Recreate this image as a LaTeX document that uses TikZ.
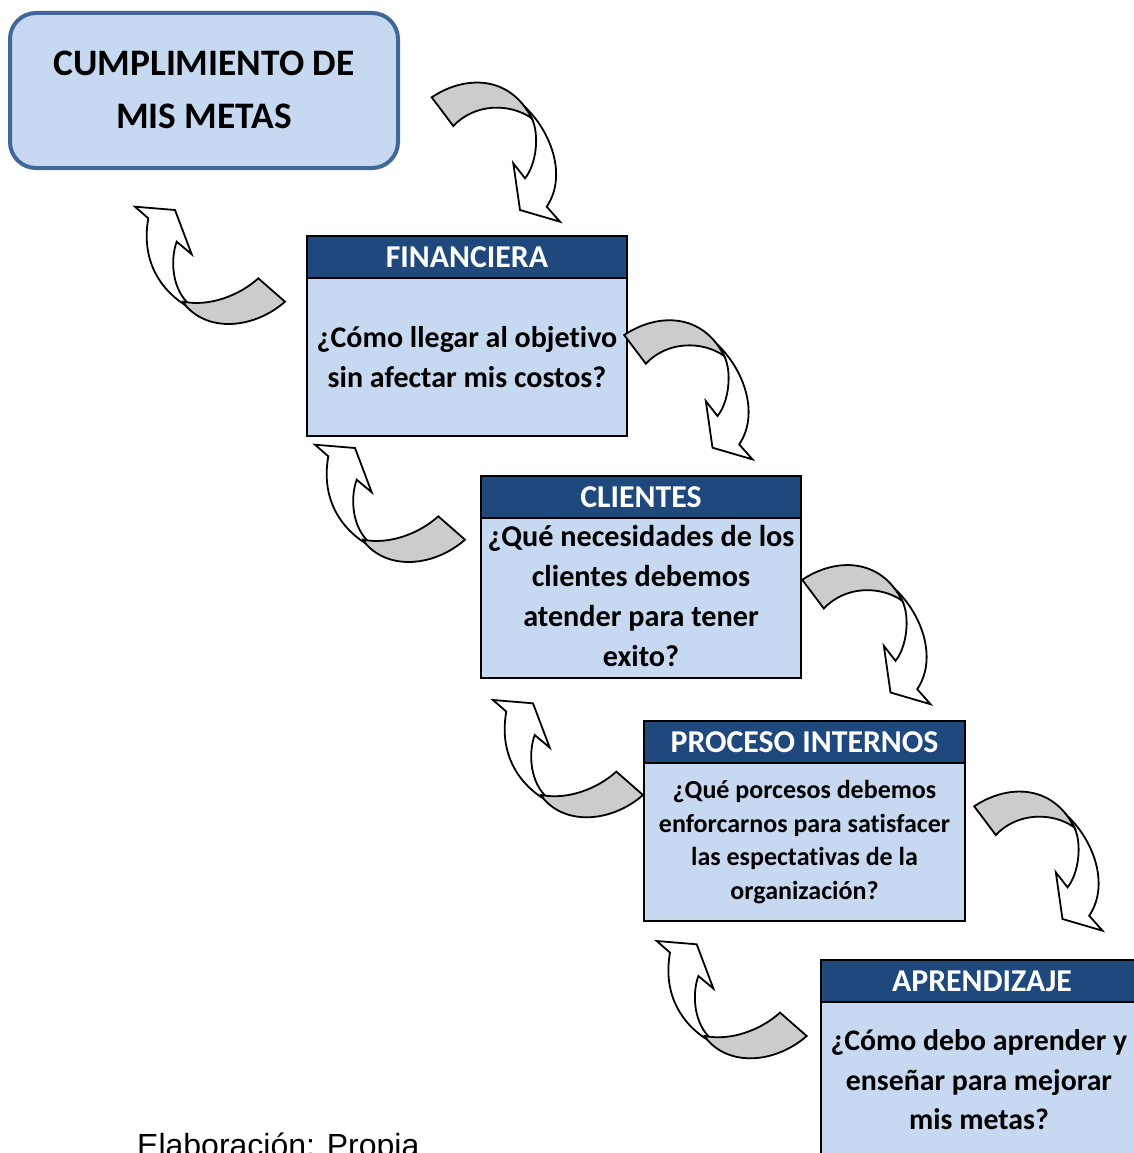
\documentclass[tikz,border=0pt]{standalone}
\usepackage{fontspec}
\setmainfont{Carlito}[Ligatures=NoCommon]
\newfontfamily\capfont{Liberation Sans}
\definecolor{lblue}{HTML}{C6D9F1}
\definecolor{hblue}{HTML}{1F497D}
\definecolor{tborder}{HTML}{41679A}
\definecolor{greyc}{HTML}{CCCCCC}
\tikzset{
  arrline/.style={draw=black, line width=1.8pt, line join=miter},
  downarr/.pic={
    \path[arrline, fill=white] (104.5,36.6) .. controls (130,60) and (148,105) .. (126.7,136.7)
      -- (140,151.7) -- (100,140) -- (93.3,93.3) -- (105,108.3)
      .. controls (116,95) and (120,65) .. (111.7,48.3) -- cycle;
    \path[arrline, fill=greyc] (11.7,27.3) .. controls (45,5) and (90,5) .. (111.7,48.3)
      .. controls (90,33) and (55,33) .. (33.3,56) -- cycle;
  },
  uparr/.pic={
    \path[arrline, fill=white] (18.3,23.3) -- (5,11.7) -- (45,15) -- (61.7,59.3) -- (46.7,46.7)
      .. controls (40,65) and (42,95) .. (60,110) -- (62,114)
      .. controls (35,100) and (10,70) .. (18.3,23.3) -- cycle;
    \path[arrline, fill=greyc] (128.3,83.3) .. controls (110,100) and (80,112) .. (53.3,106.7)
      -- (56,111) .. controls (80,138) and (125,133) .. (155,106.7) -- cycle;
  },
  hdr/.style={draw=black, line width=2pt, fill=hblue, minimum width=320pt, minimum height=42pt,
    anchor=north west, inner sep=0pt},
  bodybox/.style={draw=black, line width=2pt, fill=lblue, minimum width=320pt, anchor=north west, inner sep=0pt},
  hdrtext/.style={text=white, inner sep=0pt, font=\bfseries\fontsize{31.8}{36}\selectfont},
  bodytext/.style={align=center, inner sep=0pt, font=\bfseries\fontsize{30}{40}\selectfont}
}
\begin{document}
\begin{tikzpicture}[x=1pt,y=-1pt]
\useasboundingbox (0,0) rectangle (1134,1153);
% top box
\node[draw=tborder, line width=4pt, fill=lblue, rounded corners=26pt, minimum width=388pt,
  minimum height=155pt, inner sep=0pt] (cum) at (204,90.5) {};
\node[align=center, inner sep=0pt, font=\bfseries\fontsize{37.4}{53}\selectfont] (cumt) at ([yshift=1pt]cum.center)
  {CUMPLIMIENTO DE\\MIS METAS};
% FINANCIERA
\node[hdr] (finH) at (306,235) {};
\node[hdrtext] (finHt) at (finH.center) {FINANCIERA};
\node[bodybox, minimum height=158pt] (finB) at (306,277) {};
\node[bodytext] (finBt) at (finB.center) {¿Cómo llegar al objetivo\\sin afectar mis costos?};
% CLIENTES
\node[hdr] (cliH) at (480,475) {};
\node[hdrtext] (cliHt) at (cliH.center) {CLIENTES};
\node[bodybox, minimum height=160pt] (cliB) at (480,517) {};
\node[bodytext, font=\bfseries\fontsize{30.2}{40}\selectfont] (cliBt) at ([yshift=2pt]cliB.center) {¿Qué necesidades de los\\clientes debemos\\atender para tener\\exito?};
% PROCESO INTERNOS
\node[hdr, minimum width=321pt] (proH) at (643,720) {};
\node[hdrtext] (proHt) at (proH.center) {PROCESO INTERNOS};
\node[bodybox, minimum width=321pt, minimum height=158pt] (proB) at (643,762) {};
\node[bodytext, font=\bfseries\fontsize{26}{33.5}\selectfont] (proBt) at (proB.center)
  {¿Qué porcesos debemos\\enforcarnos para satisfacer\\las espectativas de la\\organización?};
% APRENDIZAJE
\node[hdr] (apH) at (820,959) {};
\node[hdrtext] (apHt) at ([xshift=1pt]apH.center) {APRENDIZAJE};
\node[bodybox, minimum height=170pt] (apB) at (820,1001) {};
\node[bodytext, font=\bfseries\fontsize{29.8}{39.5}\selectfont] (apBt) at (979,1080)
  {¿Cómo debo aprender y\\enseñar para mejorar\\mis metas?};
% caption
\node[anchor=base west, inner sep=0pt, font=\capfont\fontsize{32}{38}\selectfont] (cap) at (137,1156)
  {Elaboración: Propia};
% arrows
\pic at (420,70) {downarr};
\pic at (612.5,307.7) {downarr};
\pic at (790.5,552.5) {downarr};
\pic at (962.5,779) {downarr};
\pic at (130,195) {uparr};
\pic at (310,433) {uparr};
\pic at (488,688.3) {uparr};
\pic at (651.7,929.3) {uparr};
\end{tikzpicture}
\end{document}
